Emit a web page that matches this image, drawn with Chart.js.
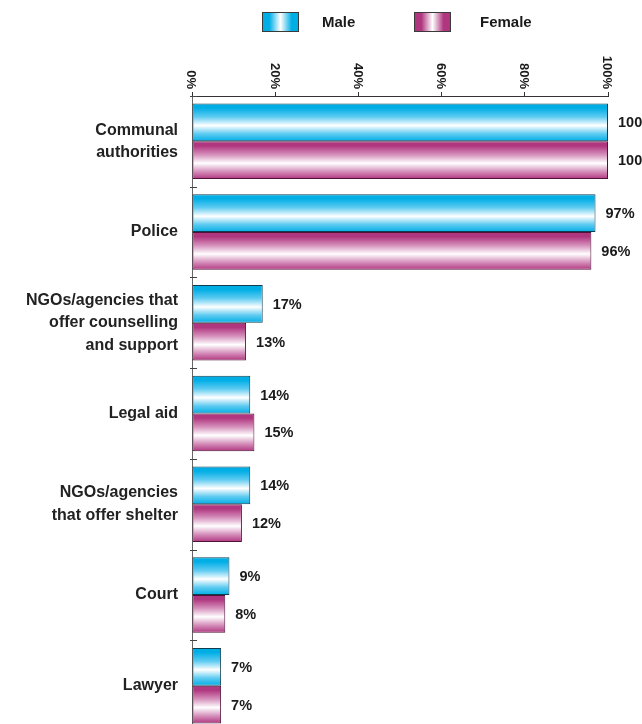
<!DOCTYPE html>
<html>
<head>
<meta charset="utf-8">
<script src="https://cdn.jsdelivr.net/npm/chart.js@4/dist/chart.umd.min.js"></script>
<style>
  html, body { margin: 0; padding: 0; background: #ffffff; overflow: hidden; }
  #wrap { width: 642px; height: 731px; }
</style>
</head>
<body>
<div id="wrap"><canvas id="chart" width="642" height="731"></canvas></div>
<script>
// Services contacted, share of respondents by sex
const categories = [
  ['Communal', 'authorities'],
  'Police',
  ['NGOs/agencies that', 'offer counselling', 'and support'],
  'Legal aid',
  ['NGOs/agencies', 'that offer shelter'],
  'Court',
  'Lawyer'
];
const maleValues = [100, 97, 17, 14, 14, 9, 7];
const femaleValues = [100, 96, 13, 15, 12, 8, 7];
const seriesNames = ['Male', 'Female'];
const axisTicks = [0, 20, 40, 60, 80, 100];

const CAT_PCT = 0.832;
const FONT = '"Liberation Sans", Arial, Helvetica, sans-serif';

const palette = [
  { edge: '#00aee6', mid: '#ffffff', soft: '#5ecbf1', border: '#123d50' },
  { edge: '#b0367f', mid: '#ffffff', soft: '#d58fbb', border: '#4d1238' }
];

function verticalSheen(ctx2d, top, h, p) {
  const g = ctx2d.createLinearGradient(0, top, 0, top + h);
  g.addColorStop(0, p.edge);
  g.addColorStop(0.12, p.edge);
  g.addColorStop(0.35, p.soft);
  g.addColorStop(0.58, p.mid);
  g.addColorStop(0.8, p.soft);
  g.addColorStop(1, p.edge);
  return g;
}

// Per-bar top-to-bottom sheen, positioned from the category scale
function barFill(context) {
  const p = palette[context.datasetIndex];
  const chart = context.chart;
  const ys = chart.scales && chart.scales.y;
  if (context.type !== 'data' || !ys || !chart.chartArea) return p.edge;
  const c = ys.getPixelForValue(context.dataIndex);
  const step = ys.getPixelForValue(1) - ys.getPixelForValue(0);
  const t = step * CAT_PCT / 2;
  const top = c - t + context.datasetIndex * t;
  return verticalSheen(chart.ctx, top, t, p);
}

const drawExtras = {
  id: 'drawExtras',
  afterDraw(chart) {
    const ctx = chart.ctx;
    const xs = chart.scales.x, ys = chart.scales.y;
    const area = chart.chartArea;

    // rotated percentage labels along the top axis
    ctx.save();
    ctx.fillStyle = '#1a1a1a';
    ctx.font = 'bold 13px ' + FONT;
    ctx.textAlign = 'right';
    ctx.textBaseline = 'middle';
    xs.ticks.forEach((tk, i) => {
      const px = xs.getPixelForTick(i);
      ctx.save();
      ctx.translate(px - 1, area.top - 7);
      ctx.rotate(Math.PI / 2);
      ctx.fillText(tk.label, 0, 0);
      ctx.restore();
    });
    ctx.restore();

    // small marks between category groups
    ctx.save();
    ctx.strokeStyle = '#444';
    ctx.lineWidth = 1;
    for (let i = 0; i <= categories.length; i++) {
      const y = Math.round(ys.getPixelForValue(i - 0.5)) + 0.5;
      ctx.beginPath();
      ctx.moveTo(area.left - 2, y);
      ctx.lineTo(area.left + 5, y);
      ctx.stroke();
    }
    ctx.restore();

    // value labels at the end of each bar
    ctx.save();
    ctx.fillStyle = '#1a1a1a';
    ctx.font = 'bold 14.5px ' + FONT;
    ctx.textAlign = 'left';
    ctx.textBaseline = 'middle';
    chart.data.datasets.forEach((ds, di) => {
      chart.getDatasetMeta(di).data.forEach((bar, i) => {
        ctx.fillText(ds.data[i] + '%', bar.x + 10, bar.y + 1);
      });
    });
    ctx.restore();

    // legend
    ctx.save();
    const items = [{ x: 262, tx: 322 }, { x: 414, tx: 480 }];
    chart.data.datasets.forEach((ds, di) => {
      const it = items[di];
      const p = palette[di];
      const g = ctx.createLinearGradient(it.x, 0, it.x + 37, 0);
      g.addColorStop(0, p.edge);
      g.addColorStop(0.2, p.edge);
      g.addColorStop(0.5, p.mid);
      g.addColorStop(0.8, p.edge);
      g.addColorStop(1, p.edge);
      ctx.fillStyle = g;
      ctx.fillRect(it.x, 12, 37, 20);
      ctx.strokeStyle = '#3a3a3a';
      ctx.lineWidth = 1;
      ctx.strokeRect(it.x + 0.5, 12.5, 36, 19);
      ctx.fillStyle = '#1a1a1a';
      ctx.font = 'bold 15px ' + FONT;
      ctx.textAlign = 'left';
      ctx.textBaseline = 'middle';
      ctx.fillText(ds.label, it.tx, 23);
    });
    ctx.restore();
  }
};

new Chart(document.getElementById('chart'), {
  type: 'bar',
  data: {
    labels: categories,
    datasets: [
      {
        label: seriesNames[0],
        data: maleValues,
        backgroundColor: barFill,
        borderColor: palette[0].border,
        borderWidth: 1,
        borderSkipped: false,
        categoryPercentage: CAT_PCT,
        barPercentage: 1
      },
      {
        label: seriesNames[1],
        data: femaleValues,
        backgroundColor: barFill,
        borderColor: palette[1].border,
        borderWidth: 1,
        borderSkipped: false,
        categoryPercentage: CAT_PCT,
        barPercentage: 1
      }
    ]
  },
  options: {
    indexAxis: 'y',
    responsive: false,
    animation: false,
    devicePixelRatio: 1,
    layout: { padding: { top: 55, right: 34, bottom: 0, left: 0 } },
    plugins: {
      legend: { display: false },
      tooltip: { enabled: false }
    },
    scales: {
      x: {
        position: 'top',
        min: 0,
        max: 100,
        afterBuildTicks(scale) {
          scale.ticks = axisTicks.map(v => ({ value: v }));
        },
        ticks: {
          display: true,
          color: 'rgba(0,0,0,0)',
          callback: v => v + '%',
          font: { size: 13, weight: 'bold', family: FONT },
          minRotation: 0,
          maxRotation: 0
        },
        afterFit(scale) {
          scale.height = 41;
          scale.paddingLeft = 0;
          scale.paddingRight = 0;
        },
        grid: { drawOnChartArea: false, drawTicks: true, tickLength: 4, color: '#333' },
        border: { display: true, color: '#333', width: 1 }
      },
      y: {
        offset: true,
        ticks: {
          color: '#222',
          font: { size: 16, weight: 'bold', family: FONT, lineHeight: 1.4 },
          padding: 14
        },
        afterFit(scale) {
          scale.width = 192;
          scale.paddingTop = 0;
          scale.paddingBottom = 0;
        },
        grid: { display: true, drawOnChartArea: false, drawTicks: false },
        border: { display: true, color: '#666', width: 1 }
      }
    }
  },
  plugins: [drawExtras]
});
</script>
</body>
</html>
